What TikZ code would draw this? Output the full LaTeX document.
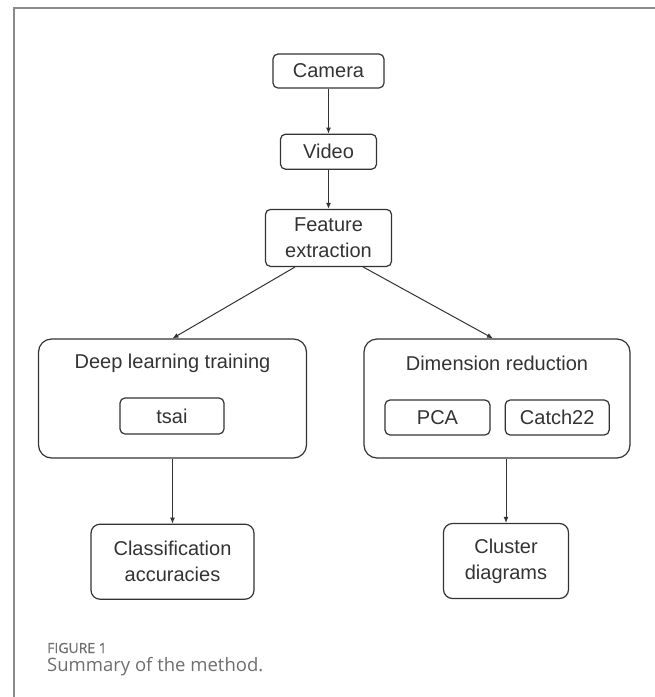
\documentclass[tikz,border=0pt]{standalone}
\usepackage{fontspec}
\setmainfont{Liberation Sans}
\newfontfamily\captionfont{Open Sans}
\newfontfamily\captionheadfont{Open Sans}[FakeBold=0.6]
\usepackage{tikz}
\usetikzlibrary{arrows.meta, calc, positioning}
\definecolor{linegray}{HTML}{333333}
\definecolor{framegray}{HTML}{8A8A8A}
\definecolor{capgray}{HTML}{6E6E6E}

\begin{document}
\begin{tikzpicture}[
 x=1pt, y=1pt,
 module/.style={draw=linegray, line width=1.2pt, rounded corners=5pt, inner sep=0pt,
  text=linegray, align=center, font=\fontsize{20}{26}\selectfont},
 groupmodule/.style={module, rounded corners=13pt, minimum width=268pt, minimum height=119pt},
 grouptitle/.style={inner sep=0pt, text=linegray, font=\fontsize{20}{26}\selectfont},
 arrow/.style={-{Latex[length=6pt,width=5pt]}, line width=1pt, draw=linegray},
 ]
 \useasboundingbox (0,0) rectangle (655,-697);
 \draw[framegray, line width=2pt] (14,-697) -- (14,-7.5) -- (655,-7.5);

 \node[module, minimum width=111pt, minimum height=34pt] (camera) at (328.5,-71) {Camera};
 \node[below= 45pt of camera, module, minimum width=96pt, minimum height=35pt] (video)
 {Video};
 \node[below= 39pt of video, module, minimum width=126pt, minimum height=57pt] (feature)
 {Feature\\extraction};

 \node[groupmodule] (deeplearning) at (172.5,-398.5) {};
 \node[grouptitle] (dltitle) at ([yshift=-25pt]deeplearning.north) {Deep learning training};
 \node[module, minimum width=104pt, minimum height=36pt] (tsai) at (172,-416) {tsai};

 \node[groupmodule, minimum width=266pt] (dimreduction) at (497,-398.5) {};
 \node[grouptitle] (drtitle) at ([yshift=-25pt]dimreduction.north) {Dimension reduction};
 \node[module, minimum width=105pt, minimum height=35pt] (pca) at (437.5,-417.5) {PCA};
 \node[right= 14pt of pca, module, minimum width=104pt, minimum height=35pt] (catch)
 {Catch22};

 \node[below= 65pt of deeplearning, module, rounded corners=9pt, minimum width=163pt, minimum height=75pt] (accuracies)
 {Classification\\accuracies};
 \node[module, rounded corners=9pt, minimum width=125pt, minimum height=75pt] (clusters) at (506,-561)
 {Cluster\\diagrams};

 \draw[arrow] (camera) -- (video);
 \draw[arrow] (video) -- (feature);
 \draw[arrow] (feature.221.8) -- (deeplearning.north);
 \draw[arrow] (feature.320) -- ([xshift=-4pt]dimreduction.north);
 \draw[arrow] (deeplearning) -- (accuracies);
 \draw[arrow] (dimreduction.south -| clusters.north) -- (clusters.north);

 \node[anchor=base west, inner sep=0pt, text=capgray, font=\captionheadfont\fontsize{14}{16}\selectfont]
 (figlabel) at (47,-653) {FIGURE 1};
 \node[anchor=base west, inner sep=0pt, text=capgray, font=\captionfont\fontsize{18.5}{20}\selectfont]
 (figcaption) at (47,-671) {Summary of the method.};
\end{tikzpicture}
\end{document}
